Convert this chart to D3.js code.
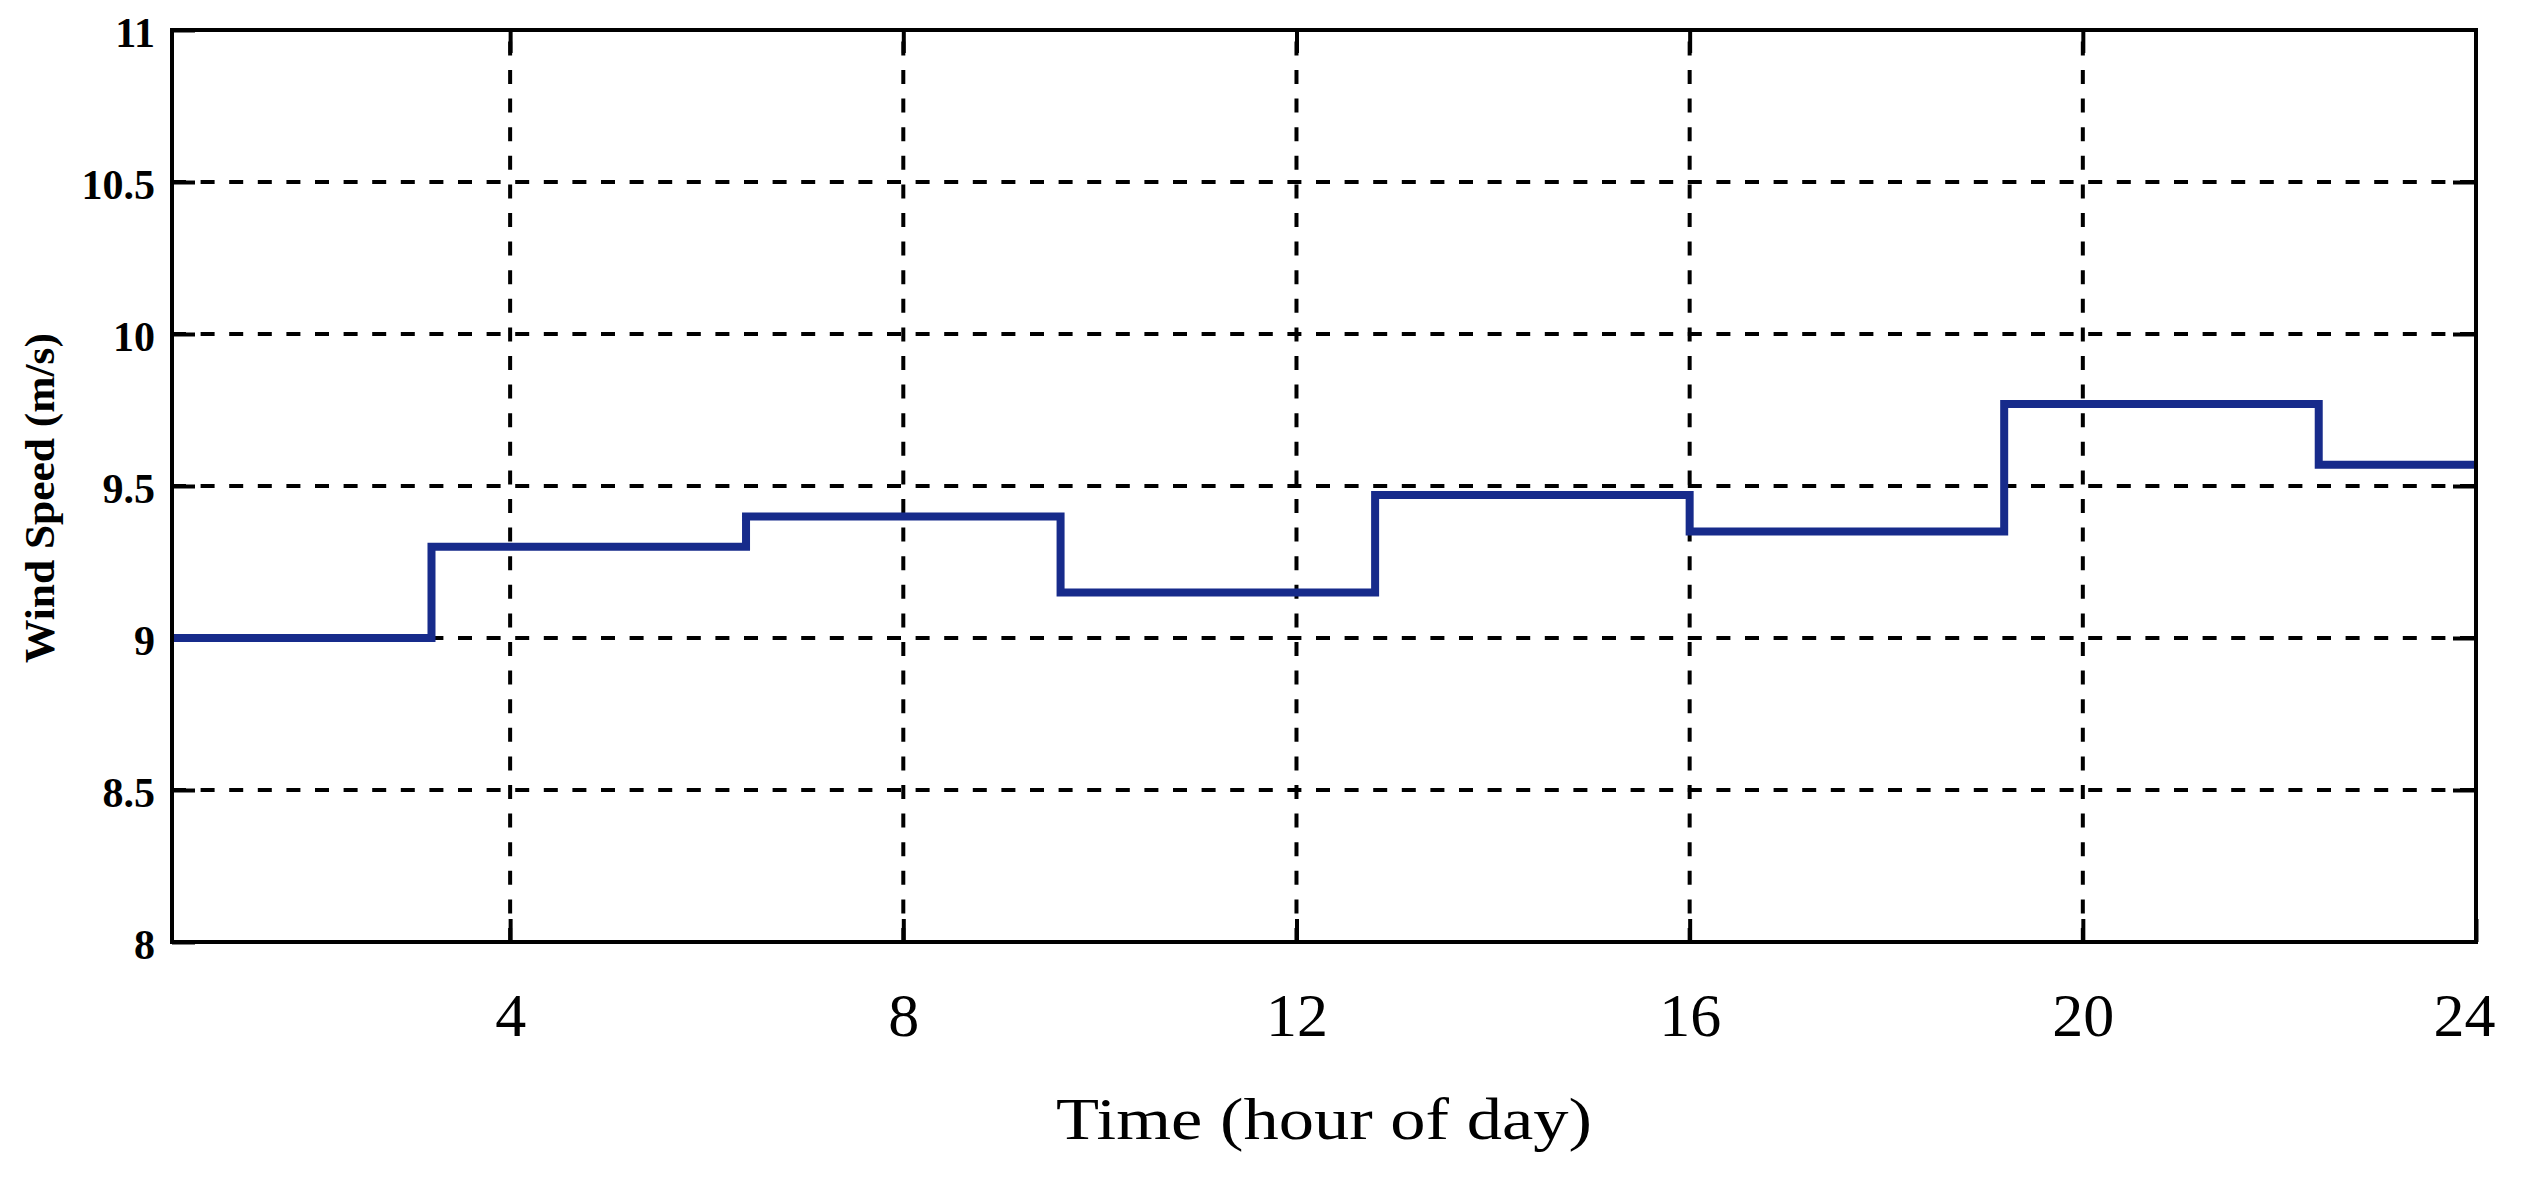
<!DOCTYPE html>
<html>
<head>
<meta charset="utf-8">
<script src="https://cdn.jsdelivr.net/npm/d3@7"></script>
<style>
  html, body { margin: 0; padding: 0; background: #ffffff; }
  svg { display: block; }
</style>
</head>
<body>
<svg id="chart" width="2525" height="1178"></svg>
<script>
// ---- data ----
const stepHours  = [0, 3.2, 6.4, 9.6, 12.8, 16, 19.2, 22.4, 24];
const windSpeed  = [9.0, 9.3, 9.4, 9.15, 9.47, 9.35, 9.77, 9.57, 9.57];
const xTickVals  = [4, 8, 12, 16, 20, 24];
const xGridVals  = [4, 8, 12, 16, 20];
const yTickVals  = [8, 8.5, 9, 9.5, 10, 10.5, 11];
const yTickLabels = ["8", "8.5", "9", "9.5", "10", "10.5", "11"];
const yGridVals  = [8.5, 9, 9.5, 10, 10.5];
const xDomain = [0.56, 24];
const yDomain = [8, 11];
const xTitle = "Time (hour of day)";
const yTitle = "Wind Speed (m/s)";

// ---- layout ----
const W = 2525, H = 1178;
const margin = { left: 172, right: 49, top: 30, bottom: 236 };
const iw = W - margin.left - margin.right;
const ih = H - margin.top - margin.bottom;

const svg = d3.select("#chart");
const g = svg.append("g").attr("transform", `translate(${margin.left},${margin.top})`);

const x = d3.scaleLinear().domain(xDomain).range([0, iw]);
const y = d3.scaleLinear().domain(yDomain).range([ih, 0]);

// clip
svg.append("defs").append("clipPath").attr("id", "plotclip")
  .append("rect").attr("x", 0).attr("y", 0).attr("width", iw).attr("height", ih);

// grid lines
const dash = "14,14.6";
g.append("g").selectAll("line.vg").data(xGridVals).join("line")
  .attr("x1", d => x(d)).attr("x2", d => x(d))
  .attr("y1", ih).attr("y2", 0)
  .attr("stroke", "#000").attr("stroke-width", 4)
  .attr("stroke-dasharray", dash);
g.append("g").selectAll("line.hg").data(yGridVals).join("line")
  .attr("x1", 0).attr("x2", iw)
  .attr("y1", d => y(d)).attr("y2", d => y(d))
  .attr("stroke", "#000").attr("stroke-width", 4)
  .attr("stroke-dasharray", dash);

// inward ticks on all sides
const tickLen = 23;
function styleAxis(sel) {
  sel.select(".domain").remove();
  sel.selectAll(".tick line").attr("stroke", "#000").attr("stroke-width", 4);
}
const xb = g.append("g").attr("transform", `translate(0,${ih})`)
  .call(d3.axisBottom(x).tickValues(xTickVals).tickSize(-tickLen).tickPadding(50).tickFormat(d3.format("d")));
styleAxis(xb);
xb.selectAll(".tick text")
  .attr("font-family", "'Liberation Serif', 'Times New Roman', serif")
  .attr("font-size", 62).attr("fill", "#000").attr("dy", "0.71em");
xb.selectAll(".tick").filter(d => d === 24).select("text").attr("dx", -12);

const xt = g.append("g").call(d3.axisTop(x).tickValues(xGridVals).tickSize(-tickLen).tickFormat(""));
styleAxis(xt);

const yl = g.append("g")
  .call(d3.axisLeft(y).tickValues(yTickVals).tickSize(-tickLen).tickPadding(17)
    .tickFormat((d, i) => yTickLabels[i]));
styleAxis(yl);
yl.selectAll(".tick text")
  .attr("font-family", "'Liberation Serif', 'Times New Roman', serif")
  .attr("font-weight", "bold").attr("font-size", 42).attr("fill", "#000")
  .attr("dy", "0.4em");

const yr = g.append("g").attr("transform", `translate(${iw},0)`)
  .call(d3.axisRight(y).tickValues(yGridVals).tickSize(-tickLen).tickFormat(""));
styleAxis(yr);

// step line
const line = d3.line()
  .x((d, i) => x(stepHours[i]))
  .y(d => y(d))
  .curve(d3.curveStepAfter);
g.append("path")
  .attr("clip-path", "url(#plotclip)")
  .attr("d", line(windSpeed))
  .attr("fill", "none")
  .attr("stroke", "#172b8b")
  .attr("stroke-width", 8)
  .attr("stroke-linejoin", "miter");

// frame
g.append("rect").attr("x", 0).attr("y", 0).attr("width", iw).attr("height", ih)
  .attr("fill", "none").attr("stroke", "#000").attr("stroke-width", 4);

// axis titles
svg.append("text")
  .attr("x", margin.left + iw / 2).attr("y", 1139)
  .attr("text-anchor", "middle")
  .attr("font-family", "'Liberation Serif', 'Times New Roman', serif")
  .attr("font-size", 60).attr("fill", "#000")
  .attr("textLength", 536).attr("lengthAdjust", "spacingAndGlyphs")
  .text(xTitle);

svg.append("text")
  .attr("transform", "translate(54,498) rotate(-90)")
  .attr("text-anchor", "middle")
  .attr("font-family", "'Liberation Serif', 'Times New Roman', serif")
  .attr("font-weight", "bold")
  .attr("font-size", 42).attr("fill", "#000")
  .attr("textLength", 330).attr("lengthAdjust", "spacingAndGlyphs")
  .text(yTitle);
</script>
</body>
</html>
